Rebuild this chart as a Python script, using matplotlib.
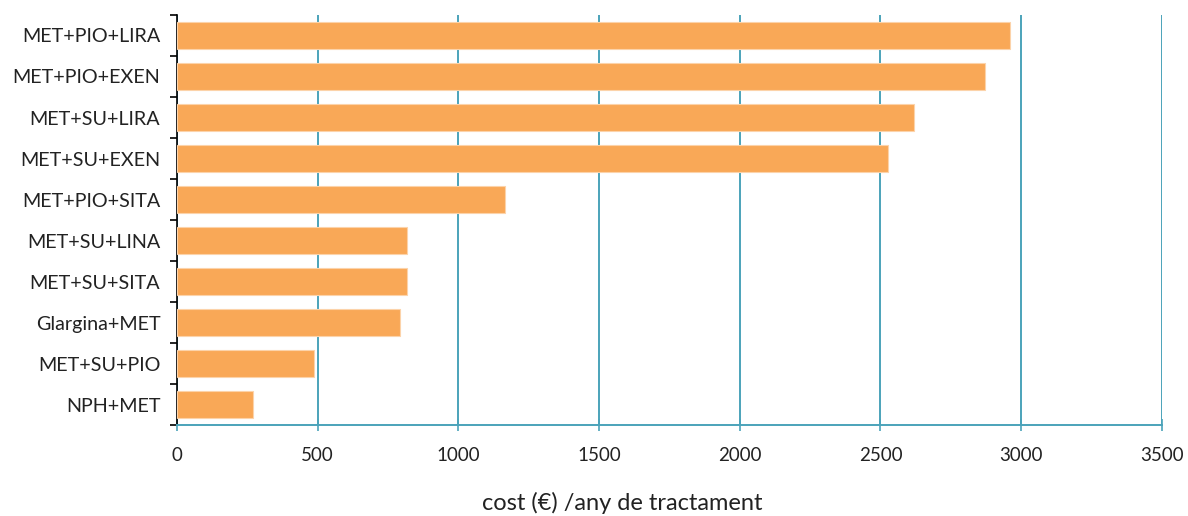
import numpy as np
import matplotlib.pyplot as plt
from matplotlib.ticker import FixedLocator

# Annual treatment cost per combination (EUR)
combinations = ['MET+PIO+LIRA', 'MET+PIO+EXEN', 'MET+SU+LIRA', 'MET+SU+EXEN',
                'MET+PIO+SITA', 'MET+SU+LINA', 'MET+SU+SITA', 'Glargina+MET',
                'MET+SU+PIO', 'NPH+MET']
costs = [2960, 2873, 2620, 2527, 1165, 818, 818, 793, 486, 269]
x_ticks = [0, 500, 1000, 1500, 2000, 2500, 3000, 3500]

bar_color = '#F9A857'
grid_color = '#4BA3BA'

plt.rcParams['font.family'] = ['Lato', 'DejaVu Sans']


def main():
    fig = plt.figure(figsize=(11.88, 5.16), dpi=100)
    ax = fig.add_axes([0.149, 0.176, 0.829, 0.795])

    y = np.arange(len(combinations))
    ax.barh(y, costs, height=0.66, color=bar_color, edgecolor='#FCD3AA',
            linewidth=0.8, zorder=3)

    ax.set_ylim(len(combinations) - 0.5, -0.5)
    ax.set_xlim(0, 3500)

    # vertical gridlines
    ax.set_xticks(x_ticks)
    ax.grid(axis='x', color=grid_color, linewidth=1.4, zorder=0)
    ax.grid(axis='y', visible=False)

    # category labels centered, ticks drawn at the boundaries
    ax.set_yticks(y)
    ax.set_yticklabels(combinations, fontsize=14.2, color='#222222')
    ax.yaxis.set_minor_locator(FixedLocator(np.arange(-0.5, len(combinations), 1)))
    ax.tick_params(axis='y', which='major', length=0, pad=12)
    ax.tick_params(axis='y', which='minor', length=5, width=1.2, color='black')

    ax.tick_params(axis='x', which='major', direction='inout', length=8,
                   width=1.2, color=grid_color, labelsize=13.5, pad=12,
                   labelcolor='#222222')

    for side in ('top', 'right'):
        ax.spines[side].set_visible(False)
    ax.spines['left'].set_color('black')
    ax.spines['left'].set_linewidth(1.2)
    ax.spines['bottom'].set_color(grid_color)
    ax.spines['bottom'].set_linewidth(1.4)

    ax.set_xlabel('cost (€) /any de tractament', fontsize=17, color='#222222')
    ax.xaxis.set_label_coords(0.452, -0.163)

    fig.savefig('out.png', dpi=100)


if __name__ == '__main__':
    main()
